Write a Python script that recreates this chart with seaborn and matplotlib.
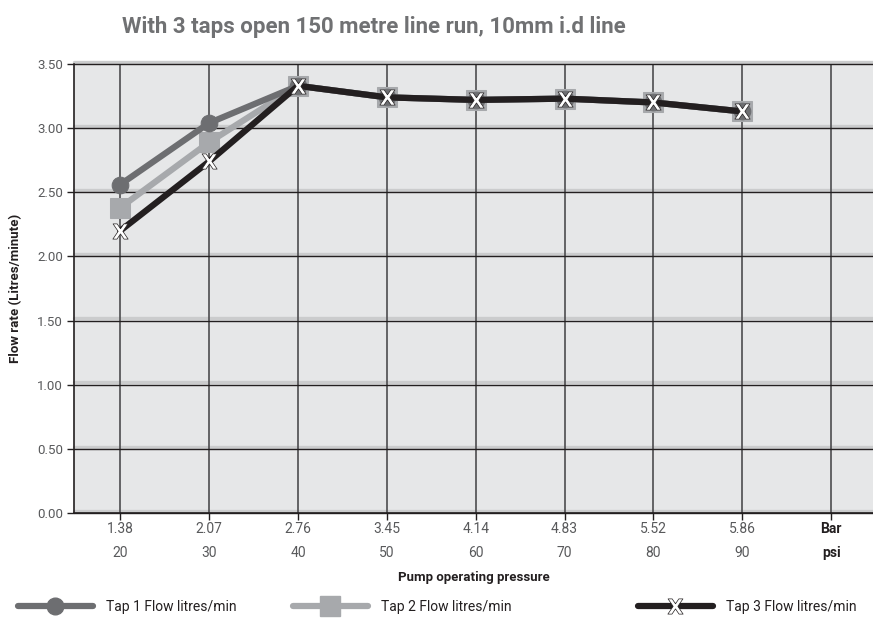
import matplotlib

matplotlib.use("Agg")
import matplotlib.pyplot as plt
import matplotlib.transforms as mtransforms
from matplotlib.lines import Line2D
import numpy as np
import seaborn as sns

bar_labels = ["1.38", "2.07", "2.76", "3.45", "4.14", "4.83", "5.52", "5.86", "Bar"]
psi_labels = ["20", "30", "40", "50", "60", "70", "80", "90", "psi"]

tap1 = [2.56, 3.04, 3.33, 3.24, 3.22, 3.23, 3.20, 3.13]
tap2 = [2.38, 2.89, 3.33, 3.24, 3.22, 3.23, 3.20, 3.13]
tap3 = [2.20, 2.74, 3.33, 3.24, 3.22, 3.23, 3.20, 3.13]
y_ticks = [0.0, 0.5, 1.0, 1.5, 2.0, 2.5, 3.0, 3.5]

X_MARK = r"$\mathbf{X}$"

sns.set_theme(style="white")
plt.rcParams["font.family"] = ["Roboto", "DejaVu Sans"]

fig = plt.figure(figsize=(8.73, 6.18), dpi=100)
ax = fig.add_axes([74 / 873, 1 - 513 / 618, 1 - 74 / 873, (513 - 64) / 618])
ax.set_facecolor("#e6e7e8")

# grid: light band just above a dark rule on each y value
band = ax.get_yaxis_transform() + mtransforms.ScaledTranslation(0, 1.6 / 72, fig.dpi_scale_trans)
for y in y_ticks:
    ax.plot([0, 1], [y, y], color="#cbcccd", lw=2.4, transform=band, zorder=1, clip_on=False)
    ax.axhline(y, color="#231f20", lw=1.0, zorder=1.2, clip_on=False)
for i in range(len(bar_labels)):
    ax.axvline(i, color="#4d4d4f", lw=1.2, zorder=1.1)

x = np.arange(len(tap1))
sns.lineplot(x=x, y=tap2, color="#a7a9ac", lw=4.5, marker="s", markersize=14,
             markerfacecolor="#a7a9ac", markeredgecolor="#a7a9ac", ax=ax, zorder=3)
sns.lineplot(x=x, y=tap1, color="#6d6e71", lw=4.5, marker="o", markersize=12,
             markerfacecolor="#6d6e71", markeredgecolor="#6d6e71", ax=ax, zorder=4)
sns.lineplot(x=x, y=tap3, color="#231f20", lw=4.5, marker=X_MARK, markersize=11,
             markerfacecolor="white", markeredgecolor="#231f20", markeredgewidth=0.5,
             ax=ax, zorder=5)

ax.set_xlim(-0.52, 8.47)
ax.set_ylim(0, 3.5)
ax.set_yticks(y_ticks)
ax.set_yticklabels([f"{v:.2f}" for v in y_ticks], color="#58595b", fontsize=9.5)
ax.set_xticks(range(len(bar_labels)))
ax.set_xticklabels([])
ax.tick_params(axis="y", left=True, length=5, width=1, color="#231f20", pad=3)
ax.tick_params(axis="x", bottom=True, length=5, width=1, color="#231f20")

for s in ["top", "right"]:
    ax.spines[s].set_visible(False)
ax.spines["left"].set_color("#231f20")
ax.spines["left"].set_linewidth(1.2)
ax.spines["bottom"].set_color("#231f20")
ax.spines["bottom"].set_linewidth(1.2)

tr = mtransforms.blended_transform_factory(ax.transData, fig.transFigure)
for i, (b, p) in enumerate(zip(bar_labels, psi_labels)):
    bold = i == len(bar_labels) - 1
    ax.text(i, 1 - 529 / 618, b, transform=tr, ha="center", va="center",
            fontsize=10, color="#231f20" if bold else "#58595b",
            fontweight="bold" if bold else "normal")
    ax.text(i, 1 - 553 / 618, p, transform=tr, ha="center", va="center",
            fontsize=10, color="#231f20" if bold else "#58595b",
            fontweight="bold" if bold else "normal")

fig.text((74 + 873) / 2 / 873, 1 - 578 / 618, "Pump operating pressure",
         ha="center", va="center", fontsize=9.5, fontweight="bold", color="#231f20")
fig.text(16 / 873, 1 - 288 / 618, "Flow rate (Litres/minute)", rotation=90,
         ha="center", va="center", fontsize=9.5, fontweight="bold", color="#231f20")
fig.text(122 / 873, 1 - 27 / 618, "With 3 taps open 150 metre line run, 10mm i.d line",
         ha="left", va="center", fontsize=16, fontweight="bold", color="#707173")

handles = [
    Line2D([], [], color="#6d6e71", lw=4.5, marker="o", markersize=12,
           markerfacecolor="#6d6e71", markeredgecolor="#6d6e71"),
    Line2D([], [], color="#a7a9ac", lw=4.5, marker="s", markersize=14,
           markerfacecolor="#a7a9ac", markeredgecolor="#a7a9ac"),
    Line2D([], [], color="#231f20", lw=4.5, marker=X_MARK, markersize=11,
           markerfacecolor="white", markeredgecolor="#231f20", markeredgewidth=0.5),
]
names = ["Tap 1 Flow litres/min", "Tap 2 Flow litres/min", "Tap 3 Flow litres/min"]
starts = [12, 287, 632]
for h, n, s in zip(handles, names, starts):
    fig.legend([h], [n], loc="center left", bbox_to_anchor=(s / 873, 1 - 607 / 618),
               frameon=False, handlelength=5.4, handletextpad=1.0, fontsize=10,
               labelcolor="#231f20", borderaxespad=0)

fig.savefig("out.png", dpi=100)
